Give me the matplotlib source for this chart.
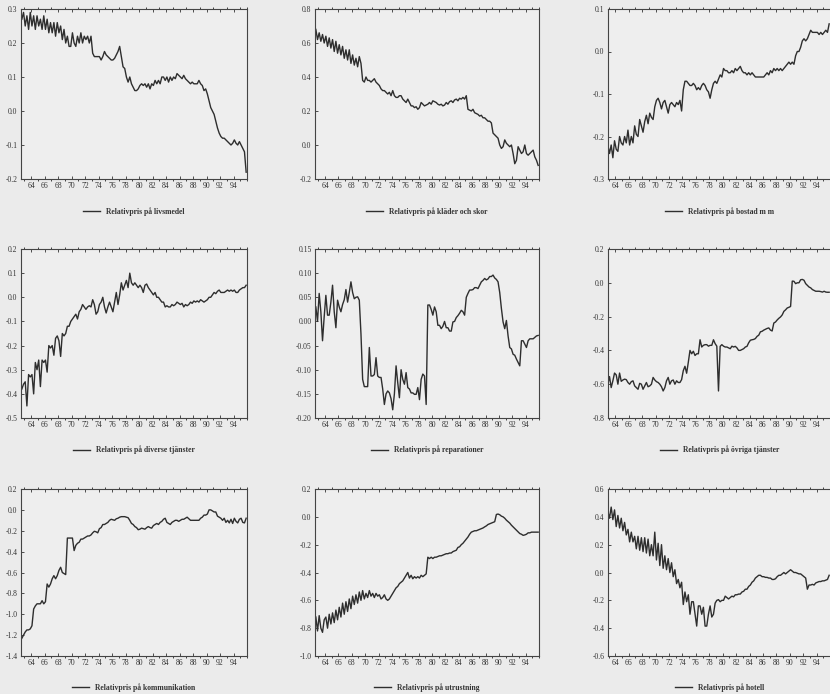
import numpy as np
import pandas as pd
import matplotlib
matplotlib.use("Agg")
import matplotlib.pyplot as plt

# quarterly data 1963Q1 - 1996Q2 (one row per year)
livsmedel = [
    0.27, 0.29, 0.25, 0.28,
    0.24, 0.29, 0.25, 0.28,
    0.24, 0.28, 0.25, 0.27,
    0.24, 0.28, 0.24, 0.27,
    0.23, 0.26, 0.23, 0.26,
    0.22, 0.26, 0.23, 0.25,
    0.21, 0.24, 0.20, 0.22,
    0.19, 0.19, 0.23, 0.20,
    0.19, 0.22, 0.20, 0.23,
    0.20, 0.22, 0.21, 0.22,
    0.20, 0.22, 0.17, 0.16,
    0.16, 0.16, 0.16, 0.15,
    0.16, 0.175, 0.165, 0.16,
    0.155, 0.15, 0.15, 0.155,
    0.165, 0.175, 0.19, 0.16,
    0.13, 0.125, 0.10, 0.085,
    0.10, 0.08, 0.07, 0.06,
    0.06, 0.065, 0.075, 0.08,
    0.075, 0.08, 0.07, 0.08,
    0.065, 0.08, 0.075, 0.09,
    0.08, 0.09, 0.08, 0.10,
    0.10, 0.09, 0.10, 0.085,
    0.10, 0.09, 0.10, 0.095,
    0.11, 0.105, 0.10, 0.095,
    0.105, 0.095, 0.09, 0.085,
    0.08, 0.085, 0.08, 0.08,
    0.08, 0.09, 0.08, 0.075,
    0.06, 0.065, 0.05, 0.03,
    0.01, 0.0, -0.01, -0.03,
    -0.05, -0.065, -0.075, -0.08,
    -0.08, -0.085, -0.09, -0.095,
    -0.10, -0.095, -0.085, -0.095,
    -0.10, -0.09, -0.10, -0.11,
    -0.12, -0.18,
]

klader = [
    0.68, 0.62, 0.66, 0.61,
    0.65, 0.60, 0.64, 0.58,
    0.63, 0.57, 0.62, 0.55,
    0.61, 0.54, 0.59, 0.53,
    0.58, 0.51, 0.56, 0.50,
    0.56, 0.48, 0.53, 0.47,
    0.51, 0.46, 0.52, 0.48,
    0.38, 0.37, 0.40, 0.38,
    0.38, 0.37, 0.38, 0.39,
    0.37, 0.36, 0.35, 0.33,
    0.32, 0.32, 0.31, 0.30,
    0.31, 0.29, 0.32, 0.29,
    0.28, 0.28, 0.29, 0.29,
    0.27, 0.26, 0.25, 0.27,
    0.25, 0.23, 0.23, 0.22,
    0.225, 0.21, 0.22, 0.25,
    0.24, 0.23, 0.235, 0.24,
    0.25, 0.24, 0.26, 0.255,
    0.25, 0.24, 0.235, 0.24,
    0.23, 0.235, 0.25, 0.24,
    0.255, 0.26, 0.25, 0.265,
    0.27, 0.26, 0.275, 0.27,
    0.28, 0.27, 0.29, 0.21,
    0.205, 0.20, 0.21, 0.19,
    0.185, 0.18, 0.17, 0.175,
    0.16, 0.16, 0.15, 0.14,
    0.14, 0.13, 0.07, 0.06,
    0.05, 0.04, 0.0, -0.02,
    -0.01, 0.03, 0.01, 0.0,
    -0.01, 0.0, -0.05, -0.11,
    -0.09, -0.01, -0.03, -0.05,
    -0.04, 0.0, -0.05, -0.06,
    -0.05, -0.04, -0.03, -0.07,
    -0.09, -0.12,
]

bostad = [
    -0.23, -0.22, -0.24, -0.22,
    -0.25, -0.21, -0.23, -0.235,
    -0.20, -0.215, -0.22, -0.20,
    -0.215, -0.185, -0.22, -0.20,
    -0.215, -0.175, -0.195, -0.20,
    -0.16, -0.175, -0.19, -0.165,
    -0.15, -0.17, -0.145, -0.155,
    -0.16, -0.13, -0.115, -0.11,
    -0.12, -0.135, -0.12, -0.115,
    -0.13, -0.145, -0.125, -0.12,
    -0.125, -0.13, -0.12, -0.125,
    -0.115, -0.14, -0.09, -0.07,
    -0.07, -0.075, -0.08, -0.08,
    -0.075, -0.08, -0.09, -0.085,
    -0.09, -0.08, -0.075, -0.08,
    -0.09, -0.095, -0.11, -0.09,
    -0.075, -0.07, -0.075, -0.065,
    -0.055, -0.06, -0.04, -0.045,
    -0.045, -0.05, -0.05, -0.045,
    -0.05, -0.04, -0.045, -0.04,
    -0.035, -0.045, -0.05, -0.05,
    -0.055, -0.05, -0.055, -0.05,
    -0.055, -0.06, -0.06, -0.06,
    -0.06, -0.06, -0.06, -0.055,
    -0.05, -0.055, -0.045, -0.05,
    -0.04, -0.045, -0.04, -0.045,
    -0.04, -0.045, -0.04, -0.035,
    -0.03, -0.025, -0.03, -0.025,
    -0.03, -0.01, 0.0, 0.0,
    0.01, 0.025, 0.03, 0.025,
    0.03, 0.04, 0.05, 0.045,
    0.045, 0.045, 0.045, 0.04,
    0.045, 0.04, 0.045, 0.05,
    0.045, 0.065,
]

diverse = [
    -0.38, -0.36, -0.35, -0.45,
    -0.32, -0.33, -0.32, -0.40,
    -0.27, -0.30, -0.26, -0.37,
    -0.26, -0.27, -0.26, -0.31,
    -0.20, -0.21, -0.20, -0.24,
    -0.17, -0.16, -0.18, -0.245,
    -0.15, -0.16, -0.15, -0.12,
    -0.12, -0.10, -0.09, -0.08,
    -0.07, -0.09, -0.06, -0.05,
    -0.03, -0.04, -0.05, -0.04,
    -0.035, -0.04, -0.01, -0.03,
    -0.07, -0.06, -0.03, -0.02,
    0.0, -0.04, -0.065, -0.04,
    -0.02, -0.04, -0.06, -0.02,
    0.02, -0.03, 0.01, 0.06,
    0.03, 0.05, 0.07, 0.04,
    0.10, 0.06, 0.05, 0.06,
    0.05, 0.04, 0.05, 0.04,
    0.02, 0.05, 0.055, 0.04,
    0.03, 0.02, 0.01, 0.02,
    0.0, 0.0, -0.01, -0.02,
    -0.02, -0.04, -0.035, -0.04,
    -0.04, -0.03, -0.035, -0.03,
    -0.02, -0.025, -0.03, -0.025,
    -0.04, -0.03, -0.035, -0.03,
    -0.02, -0.025, -0.015, -0.02,
    -0.015, -0.02, -0.01, -0.015,
    -0.02, -0.015, -0.01, 0.0,
    0.0, 0.01, 0.02, 0.015,
    0.025, 0.03, 0.02, 0.02,
    0.02, 0.025, 0.03, 0.025,
    0.03, 0.025, 0.03, 0.02,
    0.02, 0.03, 0.035, 0.04,
    0.04, 0.05,
]

reparationer = [
    0.03, 0.0, 0.058, 0.02,
    -0.04, 0.01, 0.054, 0.013,
    0.013, 0.04, 0.075, 0.02,
    -0.013, 0.044, 0.03, 0.02,
    0.035, 0.045, 0.066, 0.04,
    0.06, 0.082, 0.06, 0.047,
    0.05, 0.051, 0.044, -0.026,
    -0.12, -0.135, -0.135, -0.135,
    -0.054, -0.113, -0.113, -0.11,
    -0.075, -0.113, -0.116, -0.116,
    -0.14, -0.172, -0.15, -0.144,
    -0.148, -0.16, -0.183, -0.15,
    -0.092, -0.127, -0.158, -0.10,
    -0.12, -0.13, -0.106, -0.137,
    -0.14, -0.148, -0.148, -0.151,
    -0.151, -0.137, -0.162, -0.12,
    -0.109, -0.113, -0.172, 0.034,
    0.034, 0.025, 0.013, 0.03,
    0.02, -0.008, -0.008, -0.015,
    -0.01, 0.0, -0.013, -0.013,
    -0.02, -0.02, -0.001, 0.0,
    0.008, 0.012, 0.017, 0.023,
    0.02, 0.013, 0.05, 0.058,
    0.065, 0.065, 0.066, 0.07,
    0.07, 0.068, 0.075, 0.082,
    0.085, 0.089, 0.086, 0.088,
    0.093, 0.093, 0.096, 0.09,
    0.087, 0.082, 0.06, 0.027,
    -0.001, -0.015, 0.002, -0.03,
    -0.054, -0.057, -0.068, -0.07,
    -0.078, -0.085, -0.092, -0.04,
    -0.04, -0.047, -0.054, -0.04,
    -0.036, -0.036, -0.036, -0.033,
    -0.03, -0.029,
]

ovriga = [
    -0.55, -0.60, -0.555, -0.62,
    -0.58, -0.534, -0.545, -0.60,
    -0.534, -0.583, -0.575, -0.57,
    -0.573, -0.59, -0.60, -0.585,
    -0.58, -0.61, -0.62, -0.63,
    -0.595, -0.60, -0.63, -0.61,
    -0.59, -0.615, -0.61, -0.60,
    -0.56, -0.575, -0.585, -0.59,
    -0.60, -0.615, -0.64, -0.62,
    -0.58, -0.56, -0.60, -0.58,
    -0.575, -0.60, -0.58, -0.59,
    -0.59, -0.573, -0.52, -0.494,
    -0.535, -0.47, -0.40, -0.42,
    -0.405, -0.43, -0.42, -0.42,
    -0.337, -0.38, -0.37, -0.366,
    -0.366, -0.375, -0.37, -0.37,
    -0.337, -0.36, -0.375, -0.64,
    -0.376, -0.366, -0.375, -0.38,
    -0.38, -0.385, -0.39, -0.375,
    -0.38, -0.376, -0.385, -0.40,
    -0.40, -0.395, -0.39, -0.38,
    -0.376, -0.355, -0.34, -0.337,
    -0.335, -0.33, -0.317, -0.31,
    -0.29, -0.287, -0.28, -0.275,
    -0.27, -0.267, -0.28, -0.285,
    -0.238, -0.232, -0.22, -0.21,
    -0.202, -0.19, -0.169, -0.16,
    -0.149, -0.145, -0.14, 0.01,
    0.009, -0.005, 0.0, 0.0,
    0.018, 0.02, 0.015, -0.005,
    -0.015, -0.025, -0.03, -0.04,
    -0.045, -0.05, -0.05, -0.05,
    -0.052, -0.055, -0.05, -0.055,
    -0.056, -0.056,
]

kommunikation = [
    -1.23, -1.20, -1.17, -1.15,
    -1.15, -1.14, -1.11, -0.95,
    -0.92, -0.90, -0.90, -0.90,
    -0.87, -0.90, -0.88, -0.71,
    -0.74, -0.71, -0.66, -0.63,
    -0.66, -0.63, -0.58, -0.55,
    -0.60, -0.61, -0.62, -0.27,
    -0.27, -0.27, -0.27, -0.39,
    -0.34, -0.32, -0.31, -0.28,
    -0.28, -0.27, -0.26, -0.25,
    -0.25, -0.24, -0.22, -0.205,
    -0.21, -0.22, -0.18, -0.17,
    -0.14, -0.14, -0.13, -0.12,
    -0.10, -0.09, -0.095, -0.10,
    -0.085, -0.08, -0.07, -0.065,
    -0.065, -0.065, -0.07, -0.075,
    -0.10, -0.13, -0.14, -0.16,
    -0.17, -0.19, -0.185, -0.175,
    -0.18, -0.185, -0.17, -0.16,
    -0.17, -0.175, -0.15, -0.14,
    -0.13, -0.14, -0.12, -0.11,
    -0.09, -0.08, -0.12, -0.13,
    -0.14, -0.12, -0.11, -0.10,
    -0.10, -0.11, -0.10, -0.09,
    -0.09, -0.08, -0.07, -0.085,
    -0.10, -0.10, -0.10, -0.10,
    -0.10, -0.10, -0.08, -0.07,
    -0.05, -0.05, -0.04, 0.0,
    0.0, -0.01, -0.02, -0.02,
    -0.06, -0.07, -0.08, -0.10,
    -0.08, -0.12, -0.10, -0.125,
    -0.09, -0.13, -0.08, -0.11,
    -0.125, -0.09, -0.08, -0.12,
    -0.125, -0.08,
]

utrustning = [
    -0.72, -0.82, -0.71, -0.80,
    -0.83, -0.74, -0.72, -0.80,
    -0.70, -0.77, -0.69, -0.76,
    -0.67, -0.74, -0.65, -0.72,
    -0.62, -0.70, -0.61, -0.68,
    -0.59, -0.66, -0.57, -0.63,
    -0.56, -0.62, -0.54, -0.60,
    -0.53, -0.59, -0.55, -0.58,
    -0.53, -0.57, -0.55, -0.58,
    -0.55, -0.57, -0.56, -0.59,
    -0.58, -0.56, -0.59, -0.60,
    -0.59, -0.57, -0.55, -0.53,
    -0.51, -0.50, -0.48, -0.47,
    -0.46, -0.44, -0.42, -0.40,
    -0.44, -0.42, -0.445, -0.43,
    -0.44, -0.43, -0.44, -0.42,
    -0.43, -0.42, -0.41, -0.29,
    -0.30, -0.29, -0.30, -0.29,
    -0.29, -0.285, -0.28, -0.28,
    -0.275, -0.27, -0.265, -0.265,
    -0.26, -0.26, -0.25, -0.245,
    -0.24, -0.22, -0.215, -0.20,
    -0.19, -0.175, -0.16, -0.145,
    -0.125, -0.11, -0.105, -0.10,
    -0.10, -0.095, -0.09, -0.085,
    -0.08, -0.072, -0.065, -0.055,
    -0.05, -0.045, -0.04, -0.035,
    0.017, 0.02, 0.015, 0.005,
    0.0, -0.01, -0.024, -0.035,
    -0.045, -0.06, -0.072, -0.085,
    -0.095, -0.108, -0.12, -0.125,
    -0.133, -0.13, -0.125, -0.115,
    -0.115, -0.11, -0.11, -0.11,
    -0.11, -0.11,
]

hotell = [
    0.40, 0.44, 0.39, 0.47,
    0.38, 0.45, 0.33, 0.41,
    0.32, 0.39, 0.30, 0.36,
    0.27, 0.31, 0.22, 0.29,
    0.22, 0.26, 0.17, 0.26,
    0.16, 0.25, 0.15, 0.25,
    0.14, 0.24, 0.12, 0.20,
    0.12, 0.29, 0.09, 0.21,
    0.05, 0.20, 0.03, 0.12,
    0.02, 0.10, 0.0, 0.07,
    -0.03, 0.02, -0.08, -0.05,
    -0.11, -0.07, -0.23, -0.14,
    -0.21, -0.16, -0.30, -0.21,
    -0.21, -0.30, -0.385, -0.24,
    -0.24, -0.30, -0.25, -0.385,
    -0.385, -0.30, -0.24, -0.32,
    -0.30, -0.22, -0.20, -0.195,
    -0.21, -0.20, -0.20, -0.17,
    -0.18, -0.19, -0.18, -0.17,
    -0.175, -0.16, -0.16, -0.155,
    -0.155, -0.14, -0.135, -0.12,
    -0.12, -0.10, -0.09, -0.07,
    -0.06, -0.04, -0.03, -0.02,
    -0.02, -0.03, -0.03, -0.035,
    -0.035, -0.04, -0.04, -0.05,
    -0.05, -0.045, -0.03, -0.02,
    -0.02, -0.01, 0.0, -0.01,
    0.0, 0.01, 0.02, 0.01,
    0.0, 0.0, -0.005, -0.01,
    -0.01, -0.02, -0.03, -0.04,
    -0.12, -0.09, -0.09, -0.085,
    -0.09, -0.075, -0.07, -0.065,
    -0.065, -0.06, -0.06, -0.055,
    -0.05, -0.02,
]

labels = [
    "Relativpris på livsmedel",
    "Relativpris på kläder och skor",
    "Relativpris på bostad m m",
    "Relativpris på diverse tjänster",
    "Relativpris på reparationer",
    "Relativpris på övriga tjänster",
    "Relativpris på kommunikation",
    "Relativpris på utrustning",
    "Relativpris på hotell",
]

yticks = [
    [0.3, 0.2, 0.1, 0.0, -0.1, -0.2],
    [0.8, 0.6, 0.4, 0.2, 0.0, -0.2],
    [0.1, 0.0, -0.1, -0.2, -0.3],
    [0.2, 0.1, 0.0, -0.1, -0.2, -0.3, -0.4, -0.5],
    [0.15, 0.10, 0.05, 0.00, -0.05, -0.10, -0.15, -0.20],
    [0.2, 0.0, -0.2, -0.4, -0.6, -0.8],
    [0.2, 0.0, -0.2, -0.4, -0.6, -0.8, -1.0, -1.2, -1.4],
    [0.2, 0.0, -0.2, -0.4, -0.6, -0.8, -1.0],
    [0.6, 0.4, 0.2, 0.0, -0.2, -0.4, -0.6],
]
ydecimals = [1, 1, 1, 1, 2, 1, 1, 1, 1]

xtick_years = list(range(1964, 1996, 2))

series = [livsmedel, klader, bostad, diverse, reparationer, ovriga,
          kommunikation, utrustning, hotell]

quarters = pd.period_range("1963Q1", "1996Q2", freq="Q")
x = quarters.year + (quarters.quarter - 0.5) / 4

plt.rcParams['font.family'] = ['Liberation Serif', 'DejaVu Serif']

W, H = 830, 694
fig = plt.figure(figsize=(W / 100, H / 100), dpi=100, facecolor='#ebebeb')

col_x = [(21, 247), (315, 539), (608, 832)]
row_y = [(9, 179), (249, 418), (489, 656)]
col_xlim = [(1963.0, 1996.5), (1963.0, 1996.5), (1963.4, 1996.8)]

line_col = '#2e2e2e'

for i, vals in enumerate(series):
    r, c = divmod(i, 3)
    x0, x1 = col_x[c]
    y0, y1 = row_y[r]
    ax = fig.add_axes([x0 / W, 1 - y1 / H, (x1 - x0) / W, (y1 - y0) / H])
    ax.set_facecolor('#eeeeee')
    ax.plot(x, vals, color=line_col, lw=1.0, label=labels[i])
    ax.set_xlim(*col_xlim[c])
    yt = yticks[i]
    ax.set_ylim(min(yt), max(yt))
    ax.set_yticks(yt)
    ax.set_yticklabels([f"{v:.{ydecimals[i]}f}" for v in yt])
    ax.set_xticks([yr + 0.5 for yr in xtick_years])
    ax.set_xticklabels([str(yr)[2:] for yr in xtick_years])
    ax.set_xticks([yr + 0.5 for yr in range(1963, 1997)], minor=True)
    ax.tick_params(axis='both', labelsize=5.5, colors='#333333', length=2.5,
                   width=0.6, direction='in', pad=2.5)
    ax.tick_params(axis='x', which='both', top=True)
    ax.tick_params(axis='x', which='minor', length=1.5, width=0.5)
    for s in ax.spines.values():
        s.set_color('#444444')
        s.set_linewidth(0.8)
    leg = ax.legend(loc='center', bbox_to_anchor=(0.5, -0.19), frameon=False,
                    fontsize=5.5, handlelength=2.2, handletextpad=0.8)
    for t in leg.get_texts():
        t.set_fontweight('bold')
        t.set_color('#333333')

fig.savefig("out.png", dpi=100, facecolor=fig.get_facecolor())
